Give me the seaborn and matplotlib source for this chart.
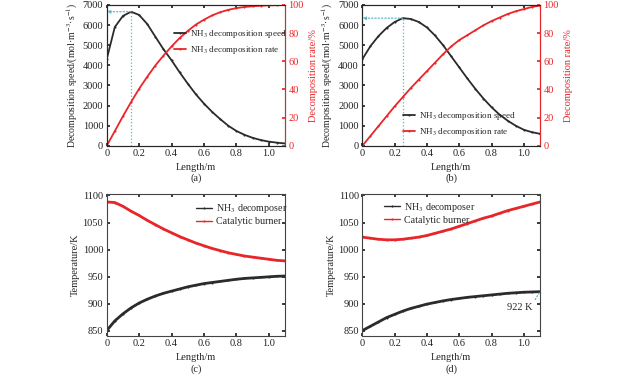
import numpy as np
import pandas as pd
import matplotlib
matplotlib.use('Agg')
import matplotlib.pyplot as plt
import seaborn as sns

# Length positions along the reactor (m)
length = [0.0, 0.05, 0.1, 0.15, 0.2, 0.25, 0.3, 0.35, 0.4, 0.45, 0.5, 0.55,
          0.6, 0.65, 0.7, 0.75, 0.8, 0.85, 0.9, 0.95, 1.0, 1.05, 1.1]

# (a) decomposition speed (mol m-3 s-1) and rate (%)
speed_a = [4300, 5900, 6450, 6660, 6500, 6050, 5420, 4800, 4250, 3650, 3090, 2560,
           2100, 1690, 1330, 1000, 740, 550, 400, 290, 210, 160, 120]
rate_a = [0, 10.5, 21, 31, 40.5, 49, 57, 64, 70.5, 76.5, 81.5, 86,
          89.5, 92.5, 94.8, 96.5, 97.7, 98.5, 99, 99.4, 99.7, 99.8, 99.9]

# (b)
speed_b = [4300, 4950, 5450, 5850, 6150, 6340, 6300, 6150, 5880, 5480, 5000, 4450,
           3900, 3350, 2830, 2350, 1920, 1550, 1250, 1000, 800, 680, 600]
rate_b = [0, 7, 14, 21, 28, 34.5, 41, 47, 53, 59, 65, 70.5,
          75, 78.5, 82, 85.5, 88.5, 91, 93.5, 95.5, 97, 98.5, 99.5]

# (c) temperatures (K)
decomposer_c = [850, 868, 881, 892, 901, 908, 914, 919, 923, 927, 931, 934,
                937, 939, 941, 943, 945, 946.5, 947.5, 948.5, 949.5, 950.5, 951]
burner_c = [1088, 1087, 1080, 1071, 1063, 1054, 1046, 1038, 1031, 1024, 1018, 1012,
            1007, 1002, 998, 994, 991, 988, 986, 984, 982, 980, 979]

# (d)
decomposer_d = [850, 858, 866, 874, 880, 886, 891, 895, 899, 902, 905, 907.5,
                909.5, 911.5, 913, 914.5, 916, 917.5, 919, 920, 921, 921.5, 922]
burner_d = [1023, 1021, 1019, 1018, 1018, 1019, 1021, 1023, 1026, 1030, 1034, 1038,
            1043, 1048, 1053, 1058, 1062, 1067, 1072, 1076, 1080, 1084, 1088]

x_ticks = [0, 0.2, 0.4, 0.6, 0.8, 1.0]
x_ticklabels = ["0", "0.2", "0.4", "0.6", "0.8", "1.0"]

BLACK = '#2b2b2b'
RED = '#e8262a'
CYAN = '#55b9c9'

sns.set_theme(style="ticks")
plt.rcParams['font.family'] = ['Liberation Serif', 'DejaVu Serif']
plt.rcParams['mathtext.fontset'] = 'stix'
plt.rcParams['xtick.direction'] = 'in'
plt.rcParams['ytick.direction'] = 'in'
plt.rcParams['xtick.major.size'] = 2.5
plt.rcParams['ytick.major.size'] = 2.5
plt.rcParams['axes.linewidth'] = 0.8

FS = 7.5
LFS = 6.5

fig = plt.figure(figsize=(6.39, 3.75), dpi=100)


def style_x(ax):
    ax.set_xlim(0, 1.1)
    ax.set_xticks(x_ticks)
    ax.set_xticklabels(x_ticklabels)
    ax.set_xlabel("Length/m", fontsize=FS, labelpad=3)
    ax.tick_params(axis='both', labelsize=FS, pad=2.5, colors='#222222')
    ax.tick_params(top=True)
    for s in ax.spines.values():
        s.set_color('#444444')


def speed_panel(rect, speed, rate, caption, legend_anchor, legend_loc):
    ax = fig.add_axes(rect)
    df = pd.DataFrame({'x': length, 'speed': speed, 'rate': rate})
    sns.lineplot(data=df, x='x', y='speed', ax=ax, color=BLACK, lw=1.3,
                 marker='.', markersize=3, markeredgewidth=0,
                 label="NH$_3$ decomposition speed", legend=False)
    ax.set_ylim(0, 7000)
    ax.set_yticks(range(0, 7001, 1000))
    ax.set_ylabel("Decomposition speed/(mol·m$^{-3}$·s$^{-1}$)", fontsize=7, labelpad=2)
    style_x(ax)
    ax.tick_params(right=False)

    # dotted guide lines at the maximum speed
    i = int(np.argmax(speed))
    ax.plot([length[i], length[i]], [0, speed[i]], ls=':', color=CYAN, lw=0.9)
    ax.annotate("", xy=(0, speed[i]), xytext=(length[i], speed[i]),
                arrowprops=dict(arrowstyle='-|>', ls=':', color=CYAN, lw=0.9,
                                mutation_scale=5, shrinkA=0, shrinkB=0))

    ax2 = ax.twinx()
    sns.lineplot(data=df, x='x', y='rate', ax=ax2, color=RED, lw=1.3,
                 marker='.', markersize=3, markeredgewidth=0,
                 label="NH$_3$ decomposition rate", legend=False)
    ax2.set_ylim(0, 100)
    ax2.set_yticks(range(0, 101, 20))
    ax2.set_ylabel("Decomposition rate/%", fontsize=FS, color=RED, labelpad=4)
    ax2.tick_params(axis='y', labelsize=FS, colors=RED, pad=2.5, direction='in')
    ax2.spines['right'].set_color(RED)
    ax2.set_xlim(0, 1.1)

    h1, l1 = ax.get_legend_handles_labels()
    h2, l2 = ax2.get_legend_handles_labels()
    ax2.legend(h1 + h2, l1 + l2, loc=legend_loc, bbox_to_anchor=legend_anchor,
               frameon=False, fontsize=LFS, handlelength=1.3,
               handletextpad=0.4, labelspacing=0.45, borderpad=0.0, borderaxespad=0.2)
    fig.text(rect[0] + rect[2] / 2, 0.525, caption, ha='center', va='center', fontsize=FS)
    return ax, ax2


def temp_panel(rect, dec, burn, caption, legend_anchor):
    ax = fig.add_axes(rect)
    df = pd.DataFrame({'x': length + length,
                       'T': dec + burn,
                       'unit': ["NH$_3$ decomposer"] * len(length) + ["Catalytic burner"] * len(length)})
    sns.lineplot(data=df, x='x', y='T', hue='unit', palette=[BLACK, RED], ax=ax,
                 lw=2.0, marker='.', markersize=3, markeredgewidth=0)
    ax.set_ylim(840, 1103)
    ax.set_yticks(range(850, 1101, 50))
    ax.set_ylabel("Temperature/K", fontsize=FS, labelpad=2)
    style_x(ax)
    ax.tick_params(right=True)
    leg = ax.legend(loc='upper left', bbox_to_anchor=legend_anchor, frameon=False,
                    fontsize=FS - 0.3, handlelength=1.6, handletextpad=0.4,
                    labelspacing=0.2, borderpad=0.2, title=None)
    for line in leg.get_lines():
        line.set_linewidth(1.0)
    fig.text(rect[0] + rect[2] / 2, 0.015, caption, ha='center', va='center', fontsize=FS)
    return ax


speed_panel([0.167, 0.611, 0.279, 0.376], speed_a, rate_a, "(a)", (0.37, 0.85), 'upper left')
speed_panel([0.567, 0.611, 0.278, 0.376], speed_b, rate_b, "(b)", (0.22, 0.04), 'lower left')
temp_panel([0.167, 0.104, 0.279, 0.379], decomposer_c, burner_c, "(c)", (0.46, 0.99))
ax_d = temp_panel([0.567, 0.104, 0.278, 0.379], decomposer_d, burner_d, "(d)", (0.08, 1.0))

ax_d.annotate(f"{decomposer_d[-1]:.0f} K", xy=(length[-1], decomposer_d[-1]),
              xytext=(1.055, 893), ha='right', va='center', fontsize=FS,
              arrowprops=dict(arrowstyle='-', ls=':', color=CYAN, lw=0.9,
                              shrinkA=0, shrinkB=0, relpos=(1.0, 0.9)))

fig.savefig("out.png", dpi=100)
